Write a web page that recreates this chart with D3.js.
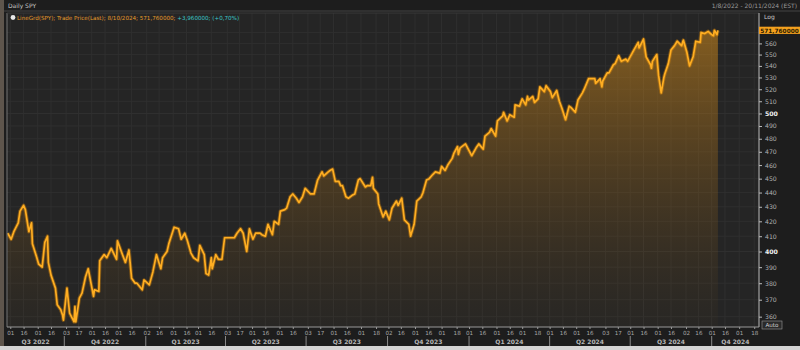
<!DOCTYPE html>
<html><head><meta charset="utf-8">
<script src="https://cdn.jsdelivr.net/npm/d3@7"></script>
<style>
html,body{margin:0;padding:0;background:#1d1d1d;overflow:hidden;}
svg{display:block;font-family:"DejaVu Sans",Arial,sans-serif;}
</style></head><body>
<svg id="chart" width="800" height="350"></svg>
<script>
const dates=[
'2022-07-29','2022-08-02','2022-08-05','2022-08-10','2022-08-12','2022-08-16','2022-08-18','2022-08-22','2022-08-25','2022-08-26','2022-08-31','2022-09-02','2022-09-06','2022-09-09','2022-09-12','2022-09-13','2022-09-16','2022-09-21','2022-09-23','2022-09-27','2022-09-29','2022-09-30','2022-10-04','2022-10-07','2022-10-12','2022-10-13','2022-10-14','2022-10-18','2022-10-21','2022-10-25','2022-10-28','2022-11-03','2022-11-04','2022-11-09','2022-11-10','2022-11-15','2022-11-18','2022-11-23','2022-11-29','2022-11-30','2022-12-05','2022-12-09','2022-12-13','2022-12-16','2022-12-20','2022-12-22','2022-12-28','2022-12-30',
'2023-01-05','2023-01-09','2023-01-13','2023-01-18','2023-01-20','2023-01-25','2023-01-27','2023-02-02','2023-02-07','2023-02-10','2023-02-14','2023-02-17','2023-02-21','2023-02-24','2023-03-01','2023-03-03','2023-03-08','2023-03-10','2023-03-13','2023-03-16','2023-03-17','2023-03-21','2023-03-24','2023-03-28','2023-03-31','2023-04-06','2023-04-11','2023-04-14','2023-04-18','2023-04-21','2023-04-25','2023-04-28','2023-05-02','2023-05-05','2023-05-10','2023-05-12','2023-05-16','2023-05-19','2023-05-24','2023-05-26','2023-05-31','2023-06-02','2023-06-07','2023-06-09','2023-06-13','2023-06-16','2023-06-20','2023-06-23','2023-06-27','2023-06-30','2023-07-06','2023-07-10','2023-07-14','2023-07-19','2023-07-21','2023-07-26','2023-07-28','2023-07-31','2023-08-03','2023-08-07','2023-08-09','2023-08-11','2023-08-15','2023-08-18','2023-08-22','2023-08-25','2023-08-29','2023-08-31','2023-09-06','2023-09-08','2023-09-12','2023-09-14','2023-09-15','2023-09-20','2023-09-21','2023-09-26','2023-09-29','2023-10-03','2023-10-06','2023-10-11','2023-10-13','2023-10-17','2023-10-20','2023-10-25','2023-10-27','2023-10-31','2023-11-03','2023-11-08','2023-11-10','2023-11-14','2023-11-17','2023-11-21','2023-11-24','2023-11-29','2023-12-01','2023-12-05','2023-12-08','2023-12-13','2023-12-15','2023-12-19','2023-12-20','2023-12-22','2023-12-28',
'2024-01-04','2024-01-09','2024-01-12','2024-01-17','2024-01-19','2024-01-24','2024-01-26','2024-01-31','2024-02-02','2024-02-08','2024-02-09','2024-02-13','2024-02-16','2024-02-21','2024-02-22','2024-02-27','2024-03-01','2024-03-05','2024-03-07','2024-03-08','2024-03-13','2024-03-15','2024-03-19','2024-03-21','2024-03-26','2024-03-28','2024-04-02','2024-04-04','2024-04-09','2024-04-12','2024-04-15','2024-04-19','2024-04-23','2024-04-25','2024-04-30','2024-05-03','2024-05-08','2024-05-10','2024-05-15','2024-05-17','2024-05-22','2024-05-23','2024-05-28','2024-05-30','2024-05-31','2024-06-05','2024-06-07','2024-06-12','2024-06-14','2024-06-18','2024-06-21','2024-06-26','2024-06-28','2024-07-03','2024-07-05','2024-07-10','2024-07-11','2024-07-16','2024-07-19','2024-07-24','2024-07-25','2024-07-26','2024-07-31','2024-08-02','2024-08-05','2024-08-08','2024-08-09','2024-08-13','2024-08-16','2024-08-20','2024-08-23','2024-08-28','2024-08-30','2024-09-03','2024-09-06','2024-09-10','2024-09-13','2024-09-18','2024-09-19','2024-09-23','2024-09-27','2024-10-01','2024-10-03','2024-10-04','2024-10-07','2024-10-08'
];
const closes=[
412,408,413,419,427,431,428,413,419,405,396,392,390,406,410,393,385,377,367,364,361,358,377,362,357,366,357,371,374,384,389,372,376,375,394,398,396,402,395,407,399,393,401,383,380,380,376,382,
379,387,398,389,396,400,405,416,415,408,412,407,399,396,394,404,398,386,385,396,389,398,395,395,409,409,409,412,415,412,400,415,408,412,412,411,410,418,411,420,418,427,428,429,437,439,436,433,437,443,439,439,449,455,452,455,456,457,448,448,445,445,437,436,438,439,449,450,444,445,445,451,443,439,432,423,427,421,429,434,431,436,421,418,410,418,434,437,440,449,450,453,455,454,459,456,460,465,469,474,468,473,476,
467,473,476,472,482,485,488,482,494,498,501,494,499,497,507,506,512,507,514,511,514,509,512,522,518,523,518,513,519,510,504,495,506,505,501,511,517,520,529,529,529,525,529,522,527,534,534,541,542,549,544,546,544,551,554,561,556,564,548,541,538,544,550,532,517,530,533,542,554,558,562,558,563,552,540,548,562,561,570,569,571,568,567,572,568,572
];
const yTicks=[360,370,380,390,400,410,420,430,440,450,460,470,480,490,500,510,520,530,540,550,560];
const boldTicks=[400,500];
const quarterStarts=['2022-07-01','2022-10-01','2023-01-01','2023-04-01','2023-07-01','2023-10-01','2024-01-01','2024-04-01','2024-07-01','2024-10-01'];
const quarterLabels=['Q3 2022','Q4 2022','Q1 2023','Q2 2023','Q3 2023','Q4 2023','Q1 2024','Q2 2024','Q3 2024','Q4 2024'];
const titleText='Daily SPY';
const rangeText='1/8/2022 - 20/11/2024 (EST)';
const legendMain='LineGrd(SPY); Trade Price(Last); 8/10/2024; 571,760000; ';
const legendChange='+3,960000; (+0,70%)';
const lastText='571,760000';

const parse=d3.timeParse('%Y-%m-%d');
const data=dates.map((d,i)=>({date:parse(d),v:closes[i]}));
const svg=d3.select('#chart');
const L=7,R=759,T=13,B=327;

// scales
const x=d3.scaleTime().domain([parse('2022-10-01'),parse('2024-10-01')]).range([64.3,711.7]);
const y=d3.scaleLog().domain([400,500]).range([251.5,113.5]);

// frame
svg.append('rect').attr('width',800).attr('height',350).attr('fill','#1d1d1d');
svg.append('rect').attr('x',0).attr('y',0).attr('width',4).attr('height',350).attr('fill','#5e554c');
svg.append('rect').attr('x',L).attr('y',T).attr('width',R-L).attr('height',B-T).attr('fill','#252525');
svg.append('line').attr('x1',4).attr('x2',800).attr('y1',11).attr('y2',11).attr('stroke','#444');
svg.append('rect').attr('x',0).attr('y',346).attr('width',800).attr('height',4).attr('fill','#d4d4d4');
svg.append('text').attr('x',8).attr('y',8).attr('fill','#c8c8c8').attr('font-size',6).text(titleText);
svg.append('text').attr('x',797).attr('y',8).attr('text-anchor','end').attr('fill','#9a9a9a').attr('font-size',6).text(rangeText);

// x ticks: first trading day on/after the 1st and 16th
const t0=x.invert(L),t1=x.invert(R);
const xTicks=[];
d3.timeMonths(d3.timeMonth.floor(t0),t1).forEach(m=>{
  [1,16].forEach(day=>{
    let d=new Date(m.getFullYear(),m.getMonth(),day);
    while(d.getDay()===0||d.getDay()===6)d=d3.timeDay.offset(d,1);
    if(d>=t0&&d<=t1)xTicks.push(d);
  });
});

const grid=svg.append('g');
grid.selectAll('line.v').data(xTicks).enter().append('line')
  .attr('x1',d=>x(d)).attr('x2',d=>x(d)).attr('y1',T).attr('y2',B)
  .attr('stroke','#2f2f2f').attr('stroke-width',1);
grid.selectAll('line.h').data(yTicks.concat([570])).enter().append('line')
  .attr('x1',L).attr('x2',R).attr('y1',d=>y(d)).attr('y2',d=>y(d))
  .attr('stroke','#2f2f2f').attr('stroke-width',1);

// clip
svg.append('clipPath').attr('id','clip').append('rect').attr('x',L).attr('y',T).attr('width',R-L).attr('height',B-T);

const grad=svg.append('defs').append('linearGradient').attr('id','fillGrad')
  .attr('gradientUnits','userSpaceOnUse').attr('x1',0).attr('x2',0).attr('y1',T).attr('y2',B);
grad.append('stop').attr('offset','0%').attr('stop-color','#d08a1c').attr('stop-opacity',0.6);
grad.append('stop').attr('offset','55%').attr('stop-color','#a36c1a').attr('stop-opacity',0.28);
grad.append('stop').attr('offset','100%').attr('stop-color','#6a4a1a').attr('stop-opacity',0.05);

const plot=svg.append('g').attr('clip-path','url(#clip)');
const area=d3.area().x(d=>x(d.date)).y0(B).y1(d=>y(d.v));
const line=d3.line().x(d=>x(d.date)).y(d=>y(d.v));
plot.append('path').datum(data).attr('d',area).attr('fill','url(#fillGrad)');
plot.append('path').datum(data).attr('d',line).attr('fill','none')
  .attr('stroke','#ff9a00').attr('stroke-opacity',0.35).attr('stroke-width',3.6).attr('stroke-linejoin','round');
plot.append('path').datum(data).attr('d',line).attr('fill','none')
  .attr('stroke','#ffae22').attr('stroke-width',1.7).attr('stroke-linejoin','round');

// borders
svg.append('line').attr('x1',L).attr('x2',L).attr('y1',T).attr('y2',B).attr('stroke','#777');
svg.append('line').attr('x1',L).attr('x2',R).attr('y1',T).attr('y2',T).attr('stroke','#3a3a3a');

// y axis (right)
const yAxis=svg.append('g').attr('transform',`translate(${R},0)`)
  .call(d3.axisRight(y).tickValues(yTicks).tickSize(3).tickPadding(3).tickFormat(d3.format('d')));
yAxis.select('.domain').attr('stroke','#bbb').attr('d',`M0,${T}V${B}`);
yAxis.selectAll('.tick line').attr('stroke','#bbb');
yAxis.selectAll('.tick text').attr('fill',d=>boldTicks.includes(d)?'#f0f0f0':'#b0b0b0')
  .attr('font-weight',d=>boldTicks.includes(d)?'bold':'normal').attr('font-size',6.2).attr('font-family','"DejaVu Sans",Arial,sans-serif');
svg.append('text').attr('x',764).attr('y',19).attr('fill','#c8c8c8').attr('font-size',6).text('Log');

// last price flag
const last=data[data.length-1];
const ly=y(last.v);
svg.append('rect').attr('x',R).attr('y',ly-3.6).attr('width',41).attr('height',7.2).attr('fill','#f5a11e');
svg.append('text').attr('x',R+20.5).attr('y',ly+2.2).attr('text-anchor','middle').attr('fill','#2a1a00')
  .attr('font-size',5.8).attr('font-weight','bold').text(lastText);

// Auto box
svg.append('rect').attr('x',762).attr('y',321).attr('width',20).attr('height',8).attr('fill','#2a2a2a').attr('stroke','#999').attr('stroke-width',0.6);
svg.append('text').attr('x',772).attr('y',327.3).attr('text-anchor','middle').attr('fill','#d0d0d0').attr('font-size',5.6).text('Auto');

// x axis
const xAxis=svg.append('g').attr('transform',`translate(0,${B})`)
  .call(d3.axisBottom(x).tickValues(xTicks).tickSize(2).tickPadding(2).tickFormat(d3.timeFormat('%d')));
xAxis.select('.domain').attr('stroke','#999').attr('d',`M${L},0H${R}`);
xAxis.selectAll('.tick line').attr('stroke','#999');
xAxis.selectAll('.tick text').attr('fill','#a8a8a8').attr('font-size',5.6).attr('font-family','"DejaVu Sans",Arial,sans-serif');

// quarter row
const qs=quarterStarts.map(parse);
const qRow=svg.append('g');
qs.forEach((q,i)=>{
  const a=Math.max(L,x(q));
  const nextQ=d3.timeMonth.offset(q,3);
  const b=Math.min(R,x(nextQ));
  if(b<=a)return;
  if(x(q)>L)qRow.append('line').attr('x1',x(q)).attr('x2',x(q)).attr('y1',336).attr('y2',346).attr('stroke','#8a8a8a');
  qRow.append('text').attr('x',(a+b)/2).attr('y',344).attr('text-anchor','middle').attr('fill','#b8b8b8')
    .attr('font-size',6).attr('font-weight','bold').text(quarterLabels[i]);
});

// legend
svg.append('circle').attr('cx',13).attr('cy',17.5).attr('r',2.4).attr('fill','#e8e8e8');
const leg=svg.append('text').attr('x',17).attr('y',19.6).attr('font-size',5.6);
leg.append('tspan').attr('fill','#e59b2a').text(legendMain);
leg.append('tspan').attr('fill','#3cc8c8').text(legendChange);
</script>
</body></html>
